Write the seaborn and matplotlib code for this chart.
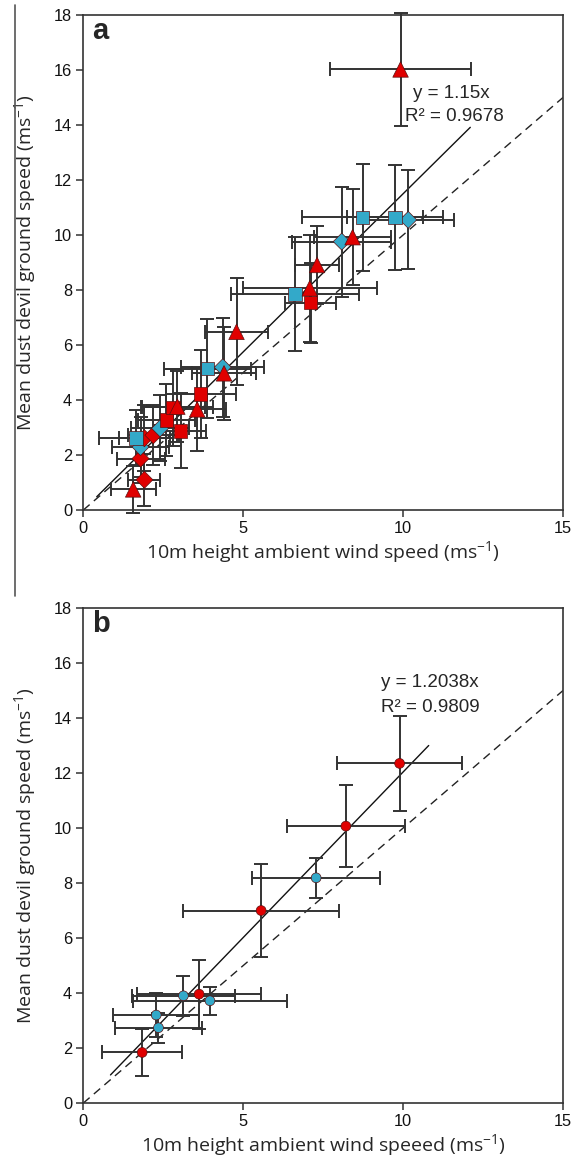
import numpy as np
import pandas as pd
import seaborn as sns
import matplotlib
matplotlib.use("Agg")
import matplotlib.pyplot as plt
from matplotlib.lines import Line2D

# ---- panel a data ----
a_x = [1.56, 1.91, 1.79, 1.79, 1.65, 1.91, 2.19, 2.40, 2.60, 3.04, 2.81, 2.94, 3.56, 3.67,
       3.88, 4.36, 4.40, 4.79, 6.62, 7.08, 7.11, 7.31, 8.08, 8.42, 8.73, 9.74, 10.16, 9.92]
a_y = [0.75, 1.10, 1.87, 2.29, 2.62, 2.61, 2.72, 2.97, 3.27, 2.88, 3.73, 3.76, 3.66, 4.22,
       5.14, 5.19, 4.97, 6.48, 7.85, 8.06, 7.54, 8.91, 9.76, 9.92, 10.64, 10.64, 10.55, 16.02]
a_xerr = [0.70, 0.50, 0.75, 0.90, 1.15, 0.80, 0.80, 0.90, 0.90, 0.80, 1.00, 1.10, 0.90, 1.10,
          1.35, 1.30, 1.00, 1.00, 2.00, 2.10, 0.80, 0.70, 1.55, 1.20, 1.90, 1.50, 1.42, 2.20]
a_yerr = [0.85, 0.95, 0.90, 1.10, 1.00, 1.20, 1.10, 1.20, 1.30, 1.36, 1.40, 1.30, 1.50, 1.60,
          1.80, 1.80, 1.70, 1.95, 2.06, 1.95, 1.45, 1.42, 2.00, 1.75, 1.95, 1.90, 1.80, 2.05]
a_shape = ['tri', 'dia', 'dia', 'dia', 'sq', 'dia', 'dia', 'dia', 'sq', 'sq', 'sq', 'tri', 'tri', 'sq',
           'sq', 'dia', 'tri', 'tri', 'sq', 'tri', 'sq', 'tri', 'dia', 'tri', 'sq', 'sq', 'dia', 'tri']
a_group = ['r', 'r', 'r', 'c', 'c', 'r', 'r', 'c', 'r', 'r', 'r', 'r', 'r', 'r',
           'c', 'c', 'r', 'r', 'c', 'r', 'r', 'r', 'c', 'r', 'c', 'c', 'c', 'r']
a_slope = 1.15
a_fit_range = [0.42, 12.1]
a_eq = ["y = 1.15x", "R² = 0.9678"]

# ---- panel b data ----
b_x = [1.84, 2.35, 2.28, 3.13, 3.62, 3.96, 5.56, 7.28, 8.21, 9.89]
b_y = [1.84, 2.74, 3.20, 3.90, 3.96, 3.72, 7.00, 8.19, 10.07, 12.35]
b_xerr = [1.25, 1.35, 1.35, 1.60, 1.95, 2.40, 2.45, 2.00, 1.85, 1.95]
b_yerr = [0.85, 0.55, 0.80, 0.72, 1.25, 0.50, 1.70, 0.73, 1.50, 1.72]
b_group = ['r', 'c', 'c', 'c', 'r', 'c', 'r', 'c', 'r', 'r']
b_slope = 1.2038
b_fit_range = [0.85, 10.8]
b_eq = ["y = 1.2038x", "R² = 0.9809"]

x_ticks = [0, 5, 10, 15]
y_ticks = [0, 2, 4, 6, 8, 10, 12, 14, 16, 18]

RED = '#e00000'
CYAN = '#33a9c9'
ERR = '#333333'

sns.set_style("ticks")
plt.rcParams['font.family'] = ['Liberation Sans', 'DejaVu Sans']
plt.rcParams['mathtext.fontset'] = 'custom'
plt.rcParams['mathtext.rm'] = 'Open Sans'
plt.rcParams['mathtext.it'] = 'Open Sans:italic'

fig = plt.figure(figsize=(5.79, 11.61), dpi=100)
ax_a = fig.add_axes([0.1439, 0.5607, 0.8285, 0.4264])
ax_b = fig.add_axes([0.1439, 0.0499, 0.8285, 0.4264])

palette = {'r': RED, 'c': CYAN}
markers = {'tri': '^', 'dia': 'D', 'sq': 's'}
sizes = {'tri': 125, 'dia': 75, 'sq': 95}


def style_axes(ax, xlabel):
    ax.set_xlim(0, 15)
    ax.set_ylim(0, 18)
    ax.set_xticks(x_ticks)
    ax.set_yticks(y_ticks)
    for s in ax.spines.values():
        s.set_visible(True)
        s.set_color('#333333')
        s.set_linewidth(1.2)
    ax.tick_params(direction='out', length=5, width=1.1, color='#333333',
                   labelsize=11.8, labelcolor='#111111', pad=3)
    ax.set_xlabel(xlabel, fontsize=14, family='Open Sans')
    ax.set_ylabel(r'Mean dust devil ground speed (ms$^{\mathregular{-1}}$)',
                  fontsize=14, family='Open Sans')
    ax.xaxis.set_label_coords(0.5, -0.059)
    ax.yaxis.set_label_coords(-0.094, 0.5)


def draw_errors(ax, x, y, xerr, yerr):
    cont = ax.errorbar(x, y, xerr=xerr, yerr=yerr, fmt='none', ecolor=ERR,
                       elinewidth=1.4, capsize=5, capthick=1.4, zorder=2)
    for art in cont.lines[1] + cont.lines[2]:
        art.set_clip_on(False)


# panel a
ax = ax_a
ax.plot([0, 15], [0, 15], color='#222222', lw=1.0, ls=(0, (6, 4)), zorder=1)
fx = np.array(a_fit_range)
ax.plot(fx, a_slope * fx, color='#111111', lw=1.0, zorder=1)
draw_errors(ax, a_x, a_y, a_xerr, a_yerr)
df_a = pd.DataFrame({'x': a_x, 'y': a_y, 'shape': a_shape, 'group': a_group})
for shp, sub in df_a.groupby('shape'):
    sns.scatterplot(data=sub, x='x', y='y', hue='group', palette=palette,
                    marker=markers[shp], s=sizes[shp], edgecolor='#5a1010',
                    linewidth=0.5, legend=False, ax=ax, zorder=3)
ax.text(10.3, 15.15, a_eq[0], fontsize=13.5, va='center', ha='left')
ax.text(10.05, 14.3, a_eq[1], fontsize=13.5, va='center', ha='left')
ax.text(0.27, 17.13, 'a', fontsize=21, fontweight='bold', va='baseline', ha='left')
style_axes(ax, r'10m height ambient wind speed (ms$^{\mathregular{-1}}$)')

# panel b
ax = ax_b
ax.plot([0, 15], [0, 15], color='#222222', lw=1.0, ls=(0, (6, 4)), zorder=1)
fx = np.array(b_fit_range)
ax.plot(fx, b_slope * fx, color='#111111', lw=1.0, zorder=1)
draw_errors(ax, b_x, b_y, b_xerr, b_yerr)
df_b = pd.DataFrame({'x': b_x, 'y': b_y, 'group': b_group})
sns.scatterplot(data=df_b, x='x', y='y', hue='group', palette=palette,
                marker='o', s=50, edgecolor='#5a1010', linewidth=0.5,
                legend=False, ax=ax, zorder=3)
ax.text(9.3, 15.3, b_eq[0], fontsize=13.5, va='center', ha='left')
ax.text(9.3, 14.4, b_eq[1], fontsize=13.5, va='center', ha='left')
ax.text(0.27, 17.13, 'b', fontsize=21, fontweight='bold', va='baseline', ha='left')
style_axes(ax, r'10m height ambient wind speeed (ms$^{\mathregular{-1}}$)')

# stray frame line at left of panel a
fig.add_artist(Line2D([0.0259, 0.0259], [0.4867, 0.9957], color='#555555', lw=1.2))

fig.savefig('out.png', dpi=100)
